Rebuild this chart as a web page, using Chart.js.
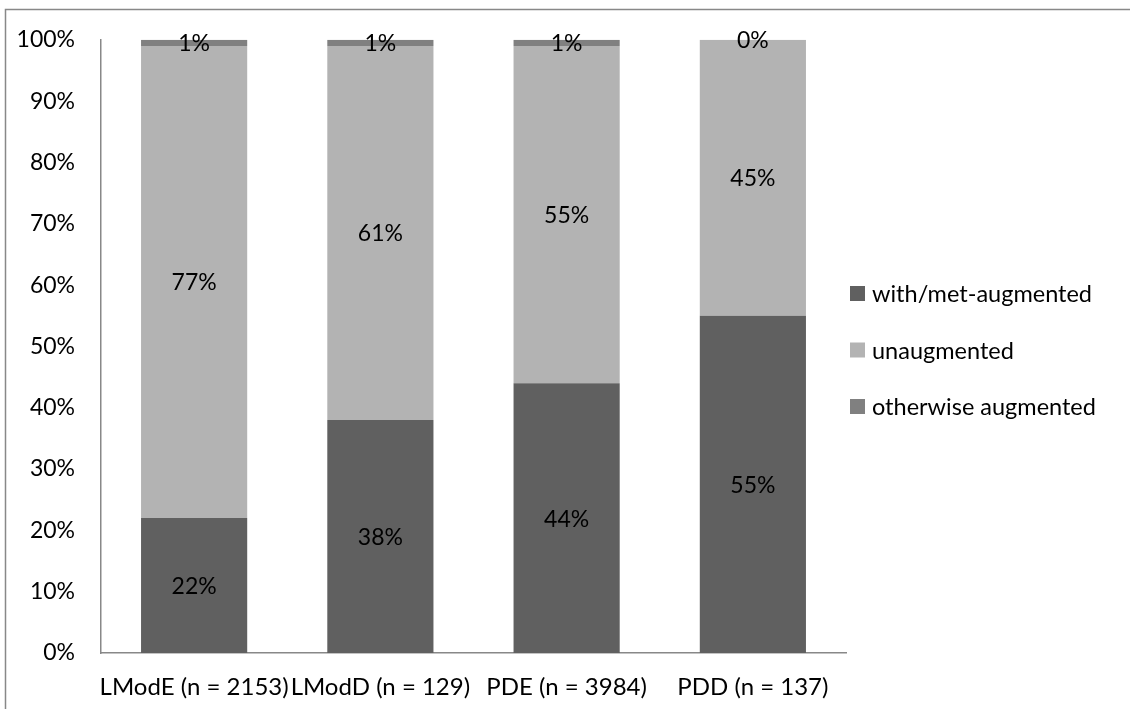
<!DOCTYPE html>
<html>
<head>
<meta charset="utf-8">
<script src="https://cdn.jsdelivr.net/npm/chart.js@4"></script>
<style>
  html, body { margin: 0; padding: 0; background: #fff; }
  #wrap { width: 1130px; height: 709px; }
</style>
</head>
<body>
<div id="wrap"><canvas id="myChart"></canvas></div>
<script>
  const labels = [
    'LModE (n = 2153)',
    'LModD (n = 129)',
    'PDE (n = 3984)',
    'PDD (n = 137)',
  ];

  const withMet = [22, 38, 44, 55];
  const unaugmented = [77, 61, 55, 45];
  const otherwise = [1, 1, 1, 0];

  const yTicks = [0, 10, 20, 30, 40, 50, 60, 70, 80, 90, 100];

  const data = {
    labels: labels,
    datasets: [{
      label: 'with/met-augmented',
      backgroundColor: '#606060',
      data: withMet,
    }, {
      label: 'unaugmented',
      backgroundColor: '#b3b3b3',
      data: unaugmented,
    }, {
      label: 'otherwise augmented',
      backgroundColor: '#808080',
      data: otherwise,
    }]
  };

  // outer frame: only top and left edges show in the window
  const frame = {
    id: 'frame',
    beforeDraw(chart) {
      const ctx = chart.ctx;
      ctx.save();
      ctx.fillStyle = '#fff';
      ctx.fillRect(0, 0, chart.width, chart.height);
      ctx.strokeStyle = '#888';
      ctx.lineWidth = 1.5;
      ctx.beginPath();
      ctx.moveTo(5.5, chart.height + 2);
      ctx.lineTo(5.5, 9.5);
      ctx.lineTo(chart.width + 2, 9.5);
      ctx.stroke();
      ctx.restore();
    }
  };

  // value labels centred in each segment
  const valueLabels = {
    id: 'valueLabels',
    afterDatasetsDraw(chart) {
      const ctx = chart.ctx;
      ctx.save();
      ctx.font = '23px Lato';
      ctx.fillStyle = '#000';
      ctx.textAlign = 'center';
      ctx.textBaseline = 'middle';
      chart.data.datasets.forEach((ds, i) => {
        const meta = chart.getDatasetMeta(i);
        meta.data.forEach((bar, j) => {
          const p = bar.getCenterPoint();
          ctx.fillText(ds.data[j] + '%', p.x, p.y + 1);
        });
      });
      ctx.restore();
    }
  };

  // legend to the right of the plot, excel style (box close to the plot edge)
  const sideLegend = {
    id: 'sideLegend',
    afterDraw(chart) {
      const ctx = chart.ctx;
      const area = chart.chartArea;
      const step = 56.5;
      const n = chart.data.datasets.length;
      const mid = chart.height / 2 - 4.5;
      ctx.save();
      ctx.font = '23.5px Lato';
      ctx.textAlign = 'left';
      ctx.textBaseline = 'middle';
      chart.data.datasets.forEach((ds, i) => {
        const y = mid + (i - (n - 1) / 2) * step;
        const x = area.right + 4;
        ctx.fillStyle = ds.backgroundColor;
        ctx.fillRect(x, y - 7.5, 15, 15);
        ctx.fillStyle = '#000';
        ctx.fillText(ds.label, x + 22, y + 1);
      });
      ctx.restore();
    }
  };

  const config = {
    type: 'bar',
    data: data,
    options: {
      responsive: true,
      maintainAspectRatio: false,
      animation: false,
      datasets: { bar: { categoryPercentage: 1, barPercentage: 0.57 } },
      layout: { padding: { top: 18, right: 284, bottom: 0, left: 0 } },
      plugins: {
        legend: { display: false },
        tooltip: { enabled: false }
      },
      scales: {
        x: {
          stacked: true,
          afterFit(scale) { scale.height = 56; },
          grid: { display: false, drawTicks: false },
          border: { display: true, color: '#888', width: 1.5 },
          ticks: {
            color: '#000',
            font: { family: 'Lato', size: 24 },
            maxRotation: 0,
            autoSkip: false,
            padding: 20
          }
        },
        y: {
          stacked: true,
          min: 0,
          max: 100,
          afterFit(scale) { scale.width = 101; },
          afterBuildTicks(scale) { scale.ticks = yTicks.map(v => ({ value: v })); },
          grid: { display: false, drawTicks: false },
          border: { display: true, color: '#888', width: 1.5 },
          ticks: {
            color: '#000',
            font: { family: 'Lato', size: 23 },
            padding: 26,
            callback: v => v + '%'
          }
        }
      }
    },
    plugins: [frame, valueLabels, sideLegend]
  };

  // wait for the font so text is measured with it
  document.fonts.load('24px Lato').then(() => {
    const myChart = new Chart(
      document.getElementById('myChart'),
      config
    );
  });
</script>
</body>
</html>
